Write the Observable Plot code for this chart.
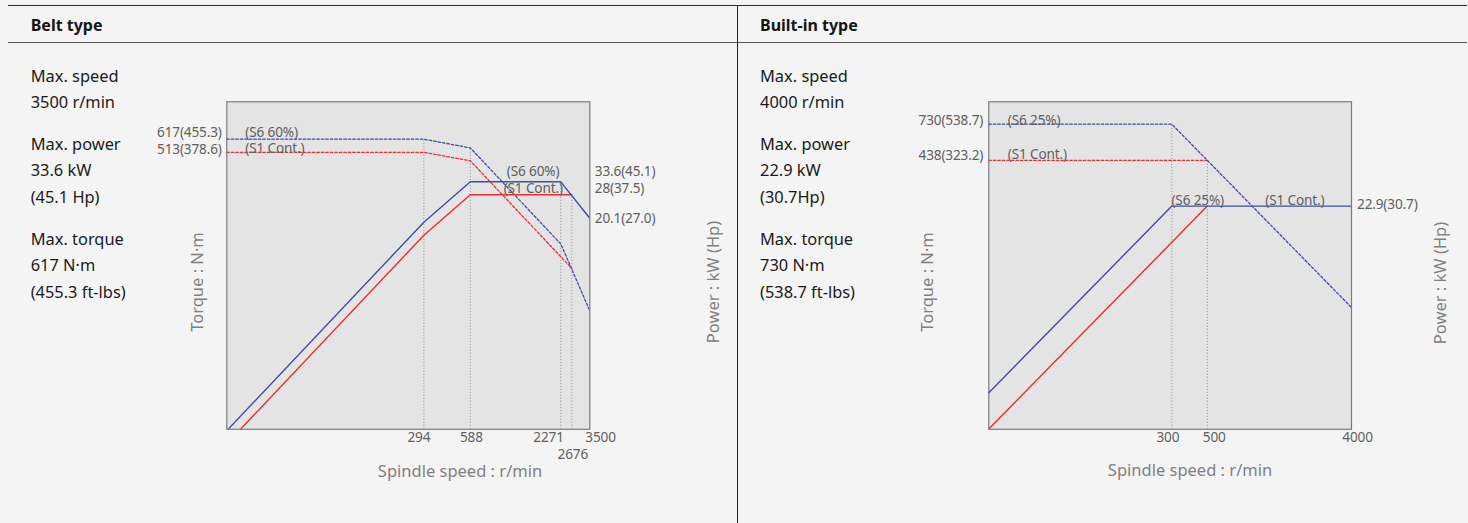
<!DOCTYPE html>
<html>
<head>
<meta charset="utf-8">
<script src="https://cdn.jsdelivr.net/npm/d3@7"></script>
<script src="https://cdn.jsdelivr.net/npm/@observablehq/plot@0.6"></script>
<style>
  html, body { margin: 0; padding: 0; background: #f4f4f4; }
  #page { position: relative; width: 1468px; height: 523px; overflow: hidden; background: #f4f4f4; font-family: "Noto Sans", sans-serif; }
  .abs { position: absolute; }
  .hdr { font-weight: bold; font-size: 16px; color: #151515; line-height: 20px; }
  .spec { font-size: 16.4px; color: #1a1a1a; line-height: 26.8px; }
  .spec .grp { margin-bottom: 14.5px; }
  .axlab { font-size: 16.5px; color: #808080; white-space: nowrap; line-height: 20px; }
  .plotlayer { position: absolute; top: 0; }
</style>
</head>
<body>
<div id="page"></div>
<script>
// ---------- Belt type ----------
const beltSpeedDomain = [15.5, 3500];
const beltTorqueDomain = [10.36, 1045];
const beltPowerDomain = [1.02, 104];
const beltS6Speed  = [15.5, 294, 588, 2271, 3500];
const beltS6Torque = [617, 617, 546, 141, 55];
const beltS6Power  = [1.0, 19.0, 33.6, 33.6, 20.1];
const beltS1Speed  = [19.0, 294, 588, 2676];
const beltS1Torque = [513, 513, 455, 100];
const beltS1Power  = [1.02, 15.8, 28, 28];
const beltS1TorqueSpeed = [15.5, 294, 588, 2676];
const beltTicks = [294, 588, 2271, 2676, 3500];
const beltTorqueGuideSpeed = [294, 588];
const beltTorqueGuideTop = [617, 546];
const beltPowerGuideSpeed = [2271, 2676];
const beltPowerGuideTop = [33.6, 28];
const beltTorqueLabelNm = [617, 513];
const beltTorqueLabelFtLbs = [455.3, 378.6];
const beltPowerLabelKw = [33.6, 28, 20.1];
const beltPowerLabelHp = [45.1, 37.5, 27.0];
const beltDuty = ["(S6 60%)", "(S1 Cont.)"];
const beltSpecs = [["Max. speed", "3500 r/min"], ["Max. power", "33.6 kW", "(45.1 Hp)"], ["Max. torque", "617 N·m", "(455.3 ft-lbs)"]];

// ---------- Built-in type ----------
const builtSpeedDomain = [21.4, 4000];
const builtTorqueDomain = [9.78, 1002];
const builtPowerDomain = [0.977, 100];
const builtS6Speed  = [21.4, 300, 4000];
const builtS6Torque = [730, 730, 54.7];
const builtS6Power  = [1.64, 22.9, 22.9];
const builtS1Speed  = [21.4, 500];
const builtS1Torque = [438, 438];
const builtS1Power  = [0.98, 22.9];
const builtTicks = [300, 500, 4000];
const builtTorqueGuideSpeed = [300, 500];
const builtTorqueGuideTop = [730, 438];
const builtTorqueLabelNm = [730, 438];
const builtTorqueLabelFtLbs = [538.7, 323.2];
const builtPowerLabelKw = [22.9];
const builtPowerLabelHp = [30.7];
const builtDuty = ["(S6 25%)", "(S1 Cont.)"];
const builtSpecs = [["Max. speed", "4000 r/min"], ["Max. power", "22.9 kW", "(30.7Hp)"], ["Max. torque", "730 N·m", "(538.7 ft-lbs)"]];

// ---------- drawing ----------
const BLUE = "#3d4fa3", RED = "#ee2b30", GUIDE = "#8a8a8a", LABEL = "#5f5f5f";
const H = 523, MT = 101.3, MB = 523 - 428.8;
const page = document.getElementById("page");
const zip = (xs, ys, kx, ky) => xs.map((v, i) => ({[kx]: v, [ky]: ys[i]}));
const txt = {fontSize: 13.6, fill: LABEL, fontFamily: "Noto Sans"};

function addDiv(cls, html, css) {
  const d = document.createElement("div");
  d.className = cls;
  d.innerHTML = html;
  Object.assign(d.style, css);
  page.appendChild(d);
  return d;
}
function fixStyle(svg) {
  svg.style.background = "transparent";
  svg.style.overflow = "visible";
  svg.querySelectorAll("text").forEach(t => t.style.letterSpacing = "-0.15px");
  return svg;
}
function layer(svg, left) {
  const wrap = document.createElement("div");
  wrap.className = "plotlayer";
  wrap.style.left = left + "px";
  wrap.appendChild(fixStyle(svg));
  page.appendChild(wrap);
}
function base(width, ml, mr, xd, yd, marks) {
  return Plot.plot({
    width, height: H, marginLeft: ml, marginRight: mr, marginTop: MT, marginBottom: MB,
    x: {type: "log", domain: xd, axis: null},
    y: {type: "log", domain: yd, axis: null},
    style: {background: "transparent", overflow: "visible"},
    marks
  });
}
const tickMark = (t, dx, dy) => Plot.text([t], {x: d => d, frameAnchor: "bottom", dx, dy, text: d => String(d), ...txt});

// Belt torque layer (with frame)
const beltTorqueMarks = [
  Plot.frame({fill: "#e4e4e4", stroke: "#7b7b7b", strokeWidth: 1.2}),
  Plot.ruleX(zip(beltTorqueGuideSpeed, beltTorqueGuideTop, "s", "t"), {x: "s", y1: beltTorqueDomain[0], y2: "t", stroke: GUIDE, strokeDasharray: "1,2", strokeWidth: 1}),
  Plot.line(zip(beltS1TorqueSpeed, beltS1Torque, "s", "t"), {x: "s", y: "t", stroke: RED, strokeWidth: 1.3, strokeDasharray: "2.5,2", clip: true}),
  Plot.line(zip(beltS6Speed, beltS6Torque, "s", "t"), {x: "s", y: "t", stroke: BLUE, strokeWidth: 1.3, strokeDasharray: "2.5,2", clip: true}),
  Plot.text([0], {y: () => beltTorqueLabelNm[0], frameAnchor: "left", textAnchor: "end", dx: -5, dy: -7, text: () => `${beltTorqueLabelNm[0]}(${beltTorqueLabelFtLbs[0].toFixed(1)})`, ...txt}),
  Plot.text([1], {y: () => beltTorqueLabelNm[1], frameAnchor: "left", textAnchor: "end", dx: -5, dy: -3, text: () => `${beltTorqueLabelNm[1]}(${beltTorqueLabelFtLbs[1].toFixed(1)})`, ...txt}),
  Plot.text([0], {y: () => beltTorqueLabelNm[0], frameAnchor: "left", textAnchor: "start", dx: 18.5, dy: -7, text: () => beltDuty[0], ...txt}),
  Plot.text([1], {y: () => beltTorqueLabelNm[1], frameAnchor: "left", textAnchor: "start", dx: 18.5, dy: -3.5, text: () => beltDuty[1], ...txt}),
  tickMark(beltTicks[0], -5, 13), tickMark(beltTicks[1], 1, 13),
  Plot.text([beltTicks[2]], {x: d => d, frameAnchor: "bottom", textAnchor: "end", dx: 3, dy: 13, text: d => String(d), ...txt}),
  tickMark(beltTicks[3], 1, 29.5),
  Plot.text([beltTicks[4]], {x: d => d, frameAnchor: "bottom", textAnchor: "start", dx: -4.5, dy: 13, text: d => String(d), ...txt})
];
layer(base(737, 226.3, 737 - 589.3, beltSpeedDomain, beltTorqueDomain, beltTorqueMarks), 0);

// Belt power layer
const beltPowerMarks = [
  Plot.ruleX(zip(beltPowerGuideSpeed, beltPowerGuideTop, "s", "p"), {x: "s", y1: beltPowerDomain[0], y2: "p", stroke: GUIDE, strokeDasharray: "1,2", strokeWidth: 1}),
  Plot.line(zip(beltS1Speed, beltS1Power, "s", "p"), {x: "s", y: "p", stroke: RED, strokeWidth: 1.4, clip: true}),
  Plot.line(zip(beltS6Speed, beltS6Power, "s", "p"), {x: "s", y: "p", stroke: BLUE, strokeWidth: 1.4, clip: true}),
  Plot.text([0], {y: () => beltPowerLabelKw[0], frameAnchor: "right", textAnchor: "start", dx: 5, dy: -10.5, text: () => `${beltPowerLabelKw[0]}(${beltPowerLabelHp[0].toFixed(1)})`, ...txt}),
  Plot.text([1], {y: () => beltPowerLabelKw[1], frameAnchor: "right", textAnchor: "start", dx: 5, dy: -6.5, text: () => `${beltPowerLabelKw[1]}(${beltPowerLabelHp[1].toFixed(1)})`, ...txt}),
  Plot.text([2], {y: () => beltPowerLabelKw[2], frameAnchor: "right", textAnchor: "start", dx: 5, dy: 0, text: () => `${beltPowerLabelKw[2]}(${beltPowerLabelHp[2].toFixed(1)})`, ...txt}),
  Plot.text([0], {x: () => beltPowerGuideSpeed[0], y: () => beltPowerLabelKw[0], textAnchor: "end", dx: -1.5, dy: -10.5, text: () => beltDuty[0], ...txt}),
  Plot.text([1], {x: () => beltPowerGuideSpeed[0], y: () => beltPowerLabelKw[1], textAnchor: "end", dx: 2, dy: -6, text: () => beltDuty[1], ...txt})
];
layer(base(737, 226.3, 737 - 589.3, beltSpeedDomain, beltPowerDomain, beltPowerMarks), 0);

// Built-in torque layer
const BL = 737, BW = 731, BML = 988.3 - 737, BMR = 1468 - 1351;
const builtTorqueMarks = [
  Plot.frame({fill: "#e4e4e4", stroke: "#7b7b7b", strokeWidth: 1.2}),
  Plot.ruleX(zip(builtTorqueGuideSpeed, builtTorqueGuideTop, "s", "t"), {x: "s", y1: builtTorqueDomain[0], y2: "t", stroke: GUIDE, strokeDasharray: "1,2", strokeWidth: 1}),
  Plot.line(zip(builtS1Speed, builtS1Torque, "s", "t"), {x: "s", y: "t", stroke: RED, strokeWidth: 1.3, strokeDasharray: "2.5,2", clip: true}),
  Plot.line(zip(builtS6Speed, builtS6Torque, "s", "t"), {x: "s", y: "t", stroke: BLUE, strokeWidth: 1.3, strokeDasharray: "2.5,2", clip: true}),
  Plot.text([0], {y: () => builtTorqueLabelNm[0], frameAnchor: "left", textAnchor: "end", dx: -5.5, dy: -4, text: () => `${builtTorqueLabelNm[0]}(${builtTorqueLabelFtLbs[0].toFixed(1)})`, ...txt}),
  Plot.text([1], {y: () => builtTorqueLabelNm[1], frameAnchor: "left", textAnchor: "end", dx: -5.5, dy: -5, text: () => `${builtTorqueLabelNm[1]}(${builtTorqueLabelFtLbs[1].toFixed(1)})`, ...txt}),
  Plot.text([0], {y: () => builtTorqueLabelNm[0], frameAnchor: "left", textAnchor: "start", dx: 19, dy: -4, text: () => builtDuty[0], ...txt}),
  Plot.text([1], {y: () => builtTorqueLabelNm[1], frameAnchor: "left", textAnchor: "start", dx: 19, dy: -6, text: () => builtDuty[1], ...txt}),
  tickMark(builtTicks[0], -4, 13), tickMark(builtTicks[1], 7, 13), tickMark(builtTicks[2], 6, 13)
];
layer(base(BW, BML, BMR, builtSpeedDomain, builtTorqueDomain, builtTorqueMarks), BL);

// Built-in power layer
const builtPowerMarks = [
  Plot.line(zip(builtS1Speed, builtS1Power, "s", "p"), {x: "s", y: "p", stroke: RED, strokeWidth: 1.4, clip: true}),
  Plot.line(zip(builtS6Speed, builtS6Power, "s", "p"), {x: "s", y: "p", stroke: BLUE, strokeWidth: 1.4, clip: true}),
  Plot.text([0], {y: () => builtPowerLabelKw[0], frameAnchor: "right", textAnchor: "start", dx: 5.5, dy: -1.5, text: () => `${builtPowerLabelKw[0]}(${builtPowerLabelHp[0].toFixed(1)})`, ...txt}),
  Plot.text([0], {x: () => builtS6Speed[1], y: () => builtPowerLabelKw[0], textAnchor: "start", dx: -0.5, dy: -5, text: () => builtDuty[0], ...txt}),
  Plot.text([0], {x: () => builtS6Speed[2], y: () => builtPowerLabelKw[0], textAnchor: "end", dx: -27, dy: -5, text: () => builtDuty[1], ...txt})
];
layer(base(BW, BML, BMR, builtSpeedDomain, builtPowerDomain, builtPowerMarks), BL);

// ---------- page furniture ----------
addDiv("abs", "", {left: "8px", top: "4.5px", width: "1459px", height: "0", borderTop: "1.5px solid #2a2a2a"});
addDiv("abs", "", {left: "8px", top: "42.2px", width: "1459px", height: "0", borderTop: "1px solid #555"});
addDiv("abs", "", {left: "736.8px", top: "5px", width: "0", height: "520px", borderLeft: "1px solid #222"});
addDiv("abs hdr", "Belt type", {left: "30.7px", top: "15px"});
addDiv("abs hdr", "Built-in type", {left: "760px", top: "15px"});

function specBlock(groups, left) {
  const html = groups.map(g => `<div class="grp">${g.map(l => `<div>${l}</div>`).join("")}</div>`).join("");
  addDiv("abs spec", html, {left: left + "px", top: "62.6px"});
}
specBlock(beltSpecs, 30.7);
specBlock(builtSpecs, 760);

function axisLabel(text, cx, cy, rotate) {
  addDiv("abs axlab", text, {left: cx + "px", top: cy + "px", transform: `translate(-50%,-50%)${rotate ? " rotate(-90deg)" : ""}`});
}
axisLabel("Torque : N·m", 197, 282, true);
axisLabel("Power : kW (Hp)", 712.7, 282, true);
axisLabel("Torque : N·m", 926.7, 282, true);
axisLabel("Power : kW (Hp)", 1440, 283, true);
axisLabel("Spindle speed : r/min", 460, 470.5, false);
axisLabel("Spindle speed : r/min", 1190, 470, false);
</script>
</body>
</html>
